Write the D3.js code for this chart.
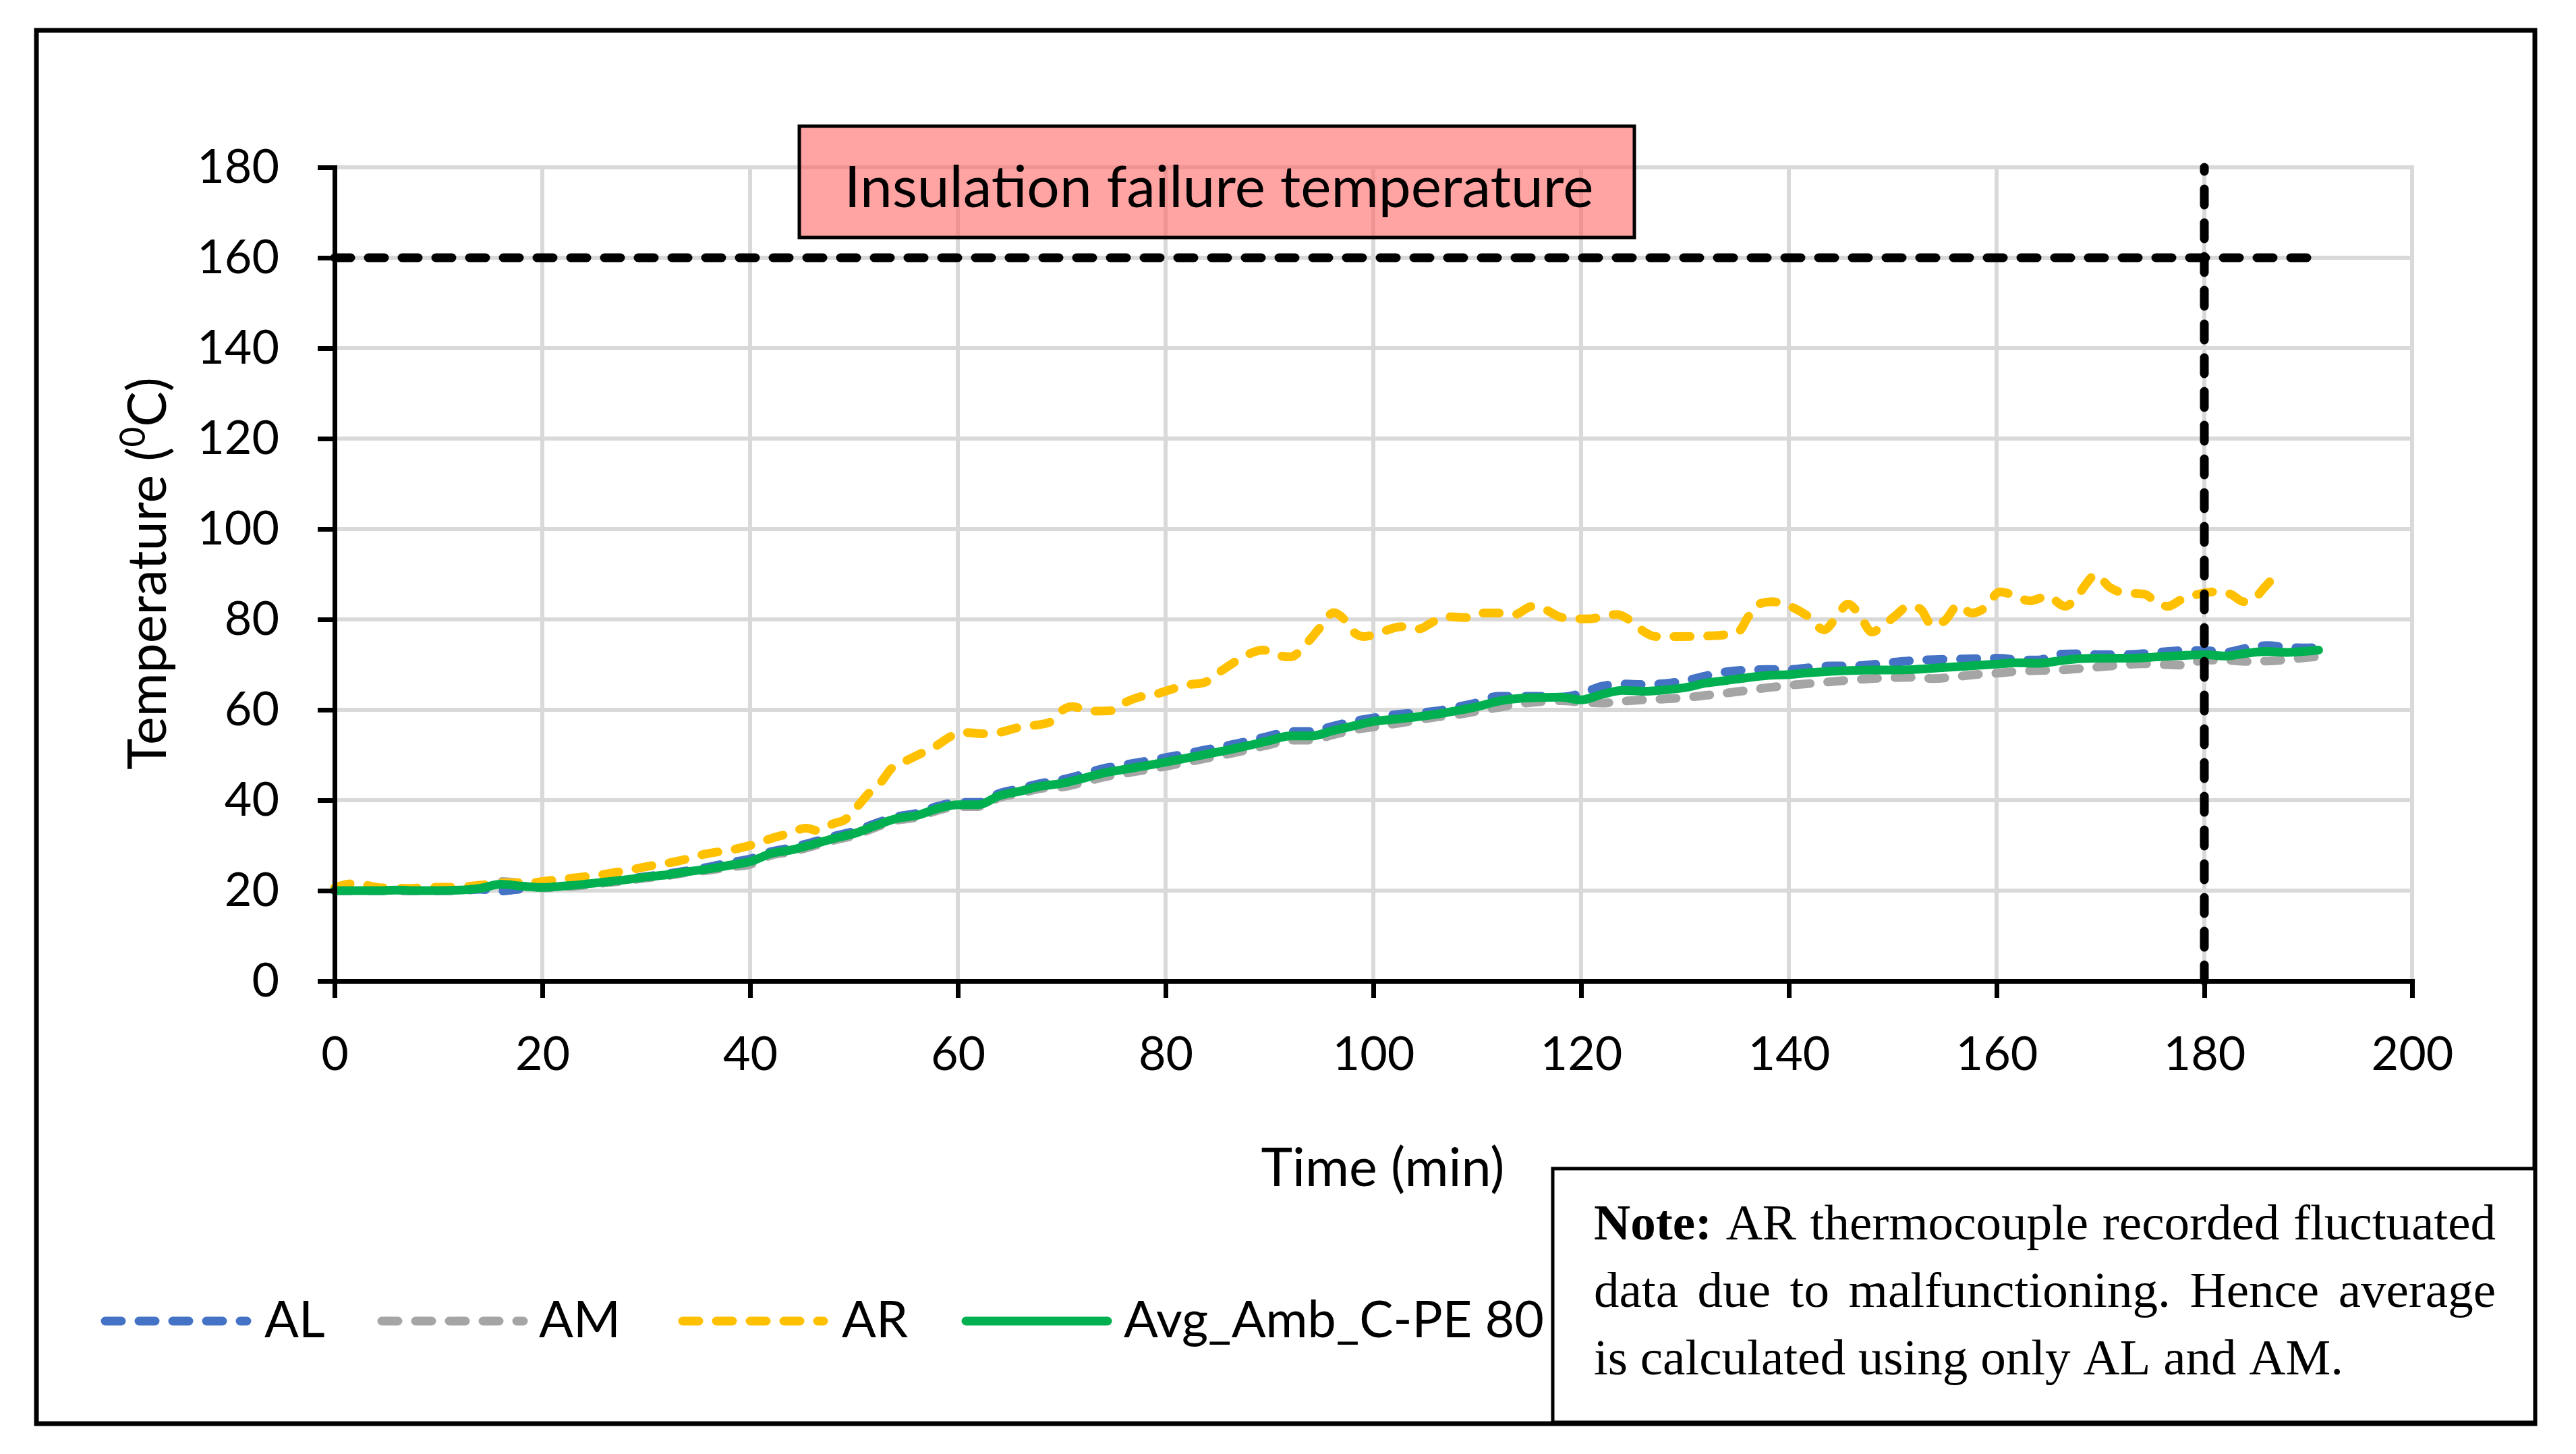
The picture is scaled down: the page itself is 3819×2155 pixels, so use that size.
<!DOCTYPE html>
<html>
<head>
<meta charset="utf-8">
<script src="https://cdnjs.cloudflare.com/ajax/libs/d3/7.8.5/d3.min.js"></script>
<style>
  body { margin: 0; background: #fff; }
  svg { display: block; }
</style>
</head>
<body>
<div id="chart"></div>
<script>
var svgWidth = 3819;
var svgHeight = 2155;

// time (min) for AL, AM and the average
var timeMain = [0, 2, 4, 6, 8, 10, 12, 14, 16, 18,
  20, 22, 24, 26, 28, 30, 32, 34, 36, 38,
  40, 42, 44, 46, 48, 50, 52, 54, 56, 58,
  60, 62, 64, 66, 68, 70, 72, 74, 76, 78,
  80, 82, 84, 86, 88, 90, 92, 94, 96, 98,
  100, 102, 104, 106, 108, 110, 112, 114, 116, 118,
  120, 122, 124, 126, 128, 130, 132, 134, 136, 138,
  140, 142, 144, 146, 148, 150, 152, 154, 156, 158,
  160, 162, 164, 166, 168, 170, 172, 174, 176, 178,
  180, 182, 184, 186, 188, 190, 191];

var AL = [20.0, 20.0, 20.0, 20.0, 20.0, 20.0, 20.0, 20.3, 19.9, 20.4,
  20.9, 21.1, 21.5, 22.0, 22.5, 23.1, 23.7, 24.4, 25.2, 26.2,
  27.0, 28.6, 29.5, 30.7, 32.0, 33.1, 34.8, 36.3, 37.1, 38.6,
  39.5, 39.5, 41.5, 42.6, 43.7, 44.5, 45.7, 47.0, 47.8, 48.6,
  49.4, 50.3, 51.2, 52.1, 53.1, 54.2, 55.2, 55.2, 56.3, 57.4,
  58.2, 58.9, 59.3, 59.7, 60.6, 61.6, 63.0, 63.0, 63.0, 62.8,
  63.6, 65.2, 65.7, 65.6, 65.8, 66.4, 67.5, 68.4, 68.8, 68.9,
  68.9, 69.3, 69.7, 69.7, 70.0, 70.5, 70.9, 71.1, 71.2, 71.3,
  71.4, 71.1, 71.0, 72.3, 72.4, 72.2, 72.2, 72.4, 72.8, 73.1,
  73.1, 72.7, 73.6, 74.2, 73.8, 73.7, 73.8];

var AM = [20.0, 20.0, 20.0, 20.0, 20.0, 20.0, 20.1, 20.6, 22.0, 21.6,
  20.6, 20.8, 21.2, 21.7, 22.2, 22.8, 23.3, 24.0, 24.5, 25.2,
  25.8, 27.8, 28.6, 29.8, 31.1, 32.2, 33.9, 35.5, 36.2, 37.7,
  38.6, 38.6, 40.6, 41.5, 42.6, 42.9, 43.9, 45.1, 45.9, 46.7,
  47.5, 48.4, 49.3, 50.2, 51.2, 52.3, 53.3, 53.3, 54.4, 55.5,
  56.2, 56.9, 57.6, 58.4, 58.9, 59.7, 60.5, 61.3, 61.8, 62.0,
  61.7, 61.5, 61.9, 62.2, 62.4, 62.7, 63.2, 63.7, 64.3, 64.9,
  65.4, 65.8, 66.2, 66.6, 66.9, 67.1, 67.2, 66.9, 67.3, 67.8,
  68.1, 68.5, 68.7, 68.8, 69.1, 69.5, 69.9, 70.2, 70.0, 69.9,
  71.0, 71.0, 70.7, 70.8, 71.1, 71.6, 71.8];

var AVG = [20.0, 20.0, 20.0, 20.1, 20.0, 20.0, 20.1, 20.5, 21.4, 21.0,
  20.7, 21.0, 21.4, 21.9, 22.4, 23.0, 23.5, 24.2, 24.8, 25.6,
  26.4, 28.2, 29.0, 30.2, 31.5, 32.6, 34.3, 35.9, 36.6, 38.1,
  39.0, 39.0, 41.0, 42.0, 43.1, 43.7, 44.8, 46.0, 46.8, 47.6,
  48.4, 49.3, 50.2, 51.1, 52.1, 53.2, 54.2, 54.2, 55.3, 56.4,
  57.4, 57.9, 58.4, 59.0, 59.8, 60.7, 61.9, 62.5, 62.7, 62.8,
  62.2, 63.4, 64.3, 64.1, 64.4, 64.9, 65.9, 66.5, 67.1, 67.6,
  67.8, 68.2, 68.5, 68.7, 68.8, 68.8, 68.9, 69.2, 69.5, 69.8,
  70.1, 70.4, 70.3, 70.8, 71.3, 71.4, 71.4, 71.5, 71.8, 72.0,
  72.2, 71.9, 72.5, 72.9, 72.7, 73.0, 73.2];

// AR fluctuates, so it is read at its own time points
var timeAR = [0, 1.5, 3, 4.5, 7, 9, 12, 14, 16, 19,
  21, 23, 25.6, 28, 30.5, 33, 35.5, 38.8, 40, 42,
  43.5, 45.4, 46.5, 48, 49.2, 50.4, 51.5, 52.5, 53.6, 55,
  56.6, 57.9, 59.4, 60.6, 62.5, 64, 65.7, 67.2, 68.8, 69.8,
  71, 72.8, 74.8, 76, 77.3, 79.1, 80.8, 82.1, 83.7, 85.1,
  86.6, 87.7, 89.4, 90.9, 92, 93.7, 94.8, 96.2, 97.2, 98.1,
  99.1, 101, 102.7, 104.4, 105.7, 107, 109, 110.3, 112.3, 113.6,
  115.3, 116.6, 118.2, 120.6, 123.5, 124.5, 125.5, 127.2, 129.5, 132.8,
  135.1, 136.1, 137.1, 138.4, 140.1, 141.7, 143.4, 144.4, 145.7, 146.7,
  148, 149, 150.3, 151.5, 152.6, 153.8, 155, 156.3, 157.6, 158.9,
  160.3, 161.6, 163.2, 164.9, 166.6, 167.7, 168.7, 169.5, 170.9, 172.2,
  174.2, 175.5, 176.5, 177.8, 179.5, 181.1, 182.5, 183.8, 184.8, 185.8,
  186.8];

var AR = [20.6, 21.5, 21.2, 20.6, 20.5, 20.7, 20.8, 21.2, 21.7, 21.8,
  22.3, 22.8, 23.5, 24.4, 25.5, 26.5, 28.0, 29.3, 30.0, 31.5,
  32.5, 33.8, 33.3, 34.8, 35.8, 38.8, 41.7, 43.7, 47.0, 48.7,
  50.5, 52.0, 54.2, 55.0, 54.7, 55.0, 56.0, 56.5, 57.2, 59.5,
  60.7, 59.7, 59.8, 61.5, 62.7, 63.5, 64.7, 65.5, 66.0, 68.2,
  70.5, 72.0, 73.2, 72.0, 71.7, 75.0, 78.0, 81.5, 80.0, 77.2,
  76.2, 77.4, 78.4, 77.9, 79.4, 80.6, 80.4, 81.4, 81.4, 81.1,
  82.9, 82.1, 80.4, 80.1, 81.1, 80.1, 78.2, 76.2, 76.2, 76.4,
  77.2, 80.6, 83.4, 83.9, 82.9, 80.9, 77.7, 79.9, 83.4, 81.4,
  77.2, 78.5, 80.9, 82.9, 82.4, 78.7, 79.7, 83.1, 81.4, 82.6,
  86.1, 85.4, 84.1, 85.1, 82.9, 84.9, 88.1, 89.9, 87.1, 85.9,
  85.6, 83.6, 82.9, 84.4, 85.6, 86.1, 85.6, 83.9, 84.6, 87.1,
  89.6];

var xTicks = [0, 20, 40, 60, 80, 100, 120, 140, 160, 180, 200];
var yTicks = [0, 20, 40, 60, 80, 100, 120, 140, 160, 180];

var failureTemp = 160;
var failureLineEnd = 190;
var testEnd = 180;

var seriesNames = ["AL", "AM", "AR", "Avg_Amb_C-PE 80"];
var seriesColors = ["#4472C4", "#A5A5A5", "#FFC000", "#00B050"];

var noteLines = [
  ["Note:", "AR", "thermocouple", "recorded", "fluctuated"],
  ["data", "due", "to", "malfunctioning.", "Hence", "average"],
  ["is", "calculated", "using", "only", "AL", "and", "AM."]
];

var plot = { left: 496, right: 3576, top: 248, bottom: 1454 };
var sans = "Lato, 'Open Sans', sans-serif";

var svg = d3.select("#chart")
  .append("svg")
  .attr("width", svgWidth)
  .attr("height", svgHeight);

svg.append("rect")
  .attr("width", svgWidth)
  .attr("height", svgHeight)
  .attr("fill", "#fff");

// outer frame
svg.append("rect")
  .attr("x", 54).attr("y", 45)
  .attr("width", 3704).attr("height", 2065)
  .attr("fill", "none")
  .attr("stroke", "#000")
  .attr("stroke-width", 7);

var xScale = d3.scaleLinear().domain([0, 200]).range([plot.left, plot.right]);
var yScale = d3.scaleLinear().domain([0, 180]).range([plot.bottom, plot.top]);

// gridlines
var grid = svg.append("g");
grid.selectAll(".gx")
  .data(xTicks.filter(d => d > 0))
  .enter().append("line")
  .attr("x1", d => xScale(d)).attr("x2", d => xScale(d))
  .attr("y1", yScale(0)).attr("y2", yScale(180) - 3)
  .attr("stroke", "#D9D9D9").attr("stroke-width", 6);
grid.selectAll(".gy")
  .data(yTicks.filter(d => d > 0))
  .enter().append("line")
  .attr("x1", xScale(0)).attr("x2", xScale(200) + 3)
  .attr("y1", d => yScale(d)).attr("y2", d => yScale(d))
  .attr("stroke", "#D9D9D9").attr("stroke-width", 6);

// label box for the failure temperature
svg.append("rect")
  .attr("x", 1185).attr("y", 187)
  .attr("width", 1238).attr("height", 165)
  .attr("fill", "#FF6060")
  .attr("fill-opacity", 0.58)
  .attr("stroke", "#000")
  .attr("stroke-width", 5);

var boxText = svg.append("text")
  .attr("x", 1807).attr("y", 307)
  .attr("text-anchor", "middle")
  .attr("font-family", sans)
  .attr("font-size", 80)
  .attr("fill", "#000")
  .text("Insulation failure temperature");
fitWidth(boxText, 1111);

// 160 degC dashed line
svg.append("line")
  .attr("x1", xScale(0)).attr("x2", xScale(failureLineEnd))
  .attr("y1", yScale(failureTemp)).attr("y2", yScale(failureTemp))
  .attr("stroke", "#000")
  .attr("stroke-width", 13)
  .attr("stroke-dasharray", "24 26")
  .attr("stroke-linecap", "round");

// data lines
var lineMain = function (values) {
  return d3.line()
    .x((d, i) => xScale(timeMain[i]))
    .y(d => yScale(d))
    .curve(d3.curveMonotoneX)(values);
};
var lineAR = d3.line()
  .x((d, i) => xScale(timeAR[i]))
  .y(d => yScale(d))
  .curve(d3.curveMonotoneX);

var lines = svg.append("g").attr("fill", "none")
  .attr("stroke-linejoin", "round").attr("stroke-linecap", "round");

lines.append("path").attr("d", lineMain(AL))
  .attr("stroke", seriesColors[0]).attr("stroke-width", 13)
  .attr("stroke-dasharray", "24 26");
lines.append("path").attr("d", lineMain(AM))
  .attr("stroke", seriesColors[1]).attr("stroke-width", 13)
  .attr("stroke-dasharray", "24 26");
lines.append("path").attr("d", lineAR(AR))
  .attr("stroke", seriesColors[2]).attr("stroke-width", 13)
  .attr("stroke-dasharray", "24 26");
lines.append("path").attr("d", lineMain(AVG))
  .attr("stroke", seriesColors[3]).attr("stroke-width", 13);

// end of test dashed line
svg.append("line")
  .attr("x1", xScale(testEnd)).attr("x2", xScale(testEnd))
  .attr("y1", yScale(0)).attr("y2", yScale(180))
  .attr("stroke", "#000")
  .attr("stroke-width", 13)
  .attr("stroke-dasharray", "24 26")
  .attr("stroke-linecap", "round");

// axes
var bottomAxis = d3.axisBottom(xScale)
  .tickValues(xTicks).tickSize(25).tickSizeOuter(0).tickPadding(57);
var leftAxis = d3.axisLeft(yScale)
  .tickValues(yTicks).tickSize(25).tickSizeOuter(0).tickPadding(57);

var xAxis = svg.append("g")
  .attr("transform", `translate(0,${plot.bottom})`)
  .call(bottomAxis);
var yAxis = svg.append("g")
  .attr("transform", `translate(${plot.left},0)`)
  .call(leftAxis);

[xAxis, yAxis].forEach(function (ax) {
  ax.select(".domain").attr("stroke", "#000").attr("stroke-width", 7)
    .attr("stroke-linecap", "square");
  ax.selectAll(".tick line").attr("stroke", "#000").attr("stroke-width", 7);
  ax.selectAll(".tick text")
    .attr("font-family", sans)
    .attr("font-size", 70)
    .attr("fill", "#000");
});

// axis titles
var xTitle = svg.append("text")
  .attr("x", 2050).attr("y", 1758)
  .attr("text-anchor", "middle")
  .attr("font-family", sans)
  .attr("font-size", 80)
  .text("Time (min)");
fitWidth(xTitle, 361);

var yTitle = svg.append("text")
  .attr("transform", "translate(246,850) rotate(-90)")
  .attr("text-anchor", "middle")
  .attr("font-family", sans)
  .attr("font-size", 80);
yTitle.append("tspan").text("Temperature (");
yTitle.append("tspan").attr("baseline-shift", "super").attr("font-size", "0.65em").text("0");
yTitle.append("tspan").text("C)");
fitWidth(yTitle, 582);

// legend
var legendLines = [[150, 372], [560, 782], [1006, 1227], [1426, 1648]];
var legendTextX = [392, 799, 1248, 1666];
var legend = svg.append("g");
seriesNames.forEach(function (name, i) {
  legend.append("line")
    .attr("x1", legendLines[i][0] + 6).attr("x2", legendLines[i][1] - 6)
    .attr("y1", 1958).attr("y2", 1958)
    .attr("stroke", seriesColors[i])
    .attr("stroke-width", 13)
    .attr("stroke-linecap", "round")
    .attr("stroke-dasharray", i < 3 ? "24 26" : null);
});
var legendTexts = seriesNames.map(function (name, i) {
  return legend.append("text")
    .attr("x", legendTextX[i]).attr("y", 1982)
    .attr("font-family", sans)
    .attr("font-size", 80)
    .text(name);
});
var legendSize = fitWidth(legendTexts[3], 623);
legendTexts.forEach(t => t.attr("font-size", legendSize));

// note box
svg.append("rect")
  .attr("x", 2302).attr("y", 1732)
  .attr("width", 1456).attr("height", 376)
  .attr("fill", "#fff")
  .attr("stroke", "#000")
  .attr("stroke-width", 5);

var serif = "'Liberation Serif', 'Times New Roman', serif";
var noteLeft = 2363, noteRight = 3700;
var noteBase = [1837, 1937, 2037];

// size the font from the last (left aligned) line
var probe = svg.append("text").attr("font-family", serif).attr("font-size", 72)
  .text(noteLines[2].join(" "));
var noteSize = fitWidth(probe, 1100);
probe.remove();

noteLines.forEach(function (words, li) {
  var widths = words.map(function (w, wi) {
    var t = svg.append("text").attr("font-family", serif).attr("font-size", noteSize)
      .attr("font-weight", (li === 0 && wi === 0) ? "bold" : "normal").text(w);
    var len = t.node().getComputedTextLength();
    t.remove();
    return len;
  });
  var total = d3.sum(widths);
  var space = noteSize * 0.25;
  if (li < 2) space = (noteRight - noteLeft - total) / (words.length - 1);
  var x = noteLeft;
  words.forEach(function (w, wi) {
    svg.append("text")
      .attr("x", x).attr("y", noteBase[li])
      .attr("font-family", serif)
      .attr("font-size", noteSize)
      .attr("font-weight", (li === 0 && wi === 0) ? "bold" : "normal")
      .text(w);
    x += widths[wi] + space;
  });
});

function fitWidth(sel, target) {
  var fs = parseFloat(sel.attr("font-size"));
  var w = sel.node().getComputedTextLength();
  var size = fs * target / w;
  sel.attr("font-size", size);
  return size;
}
</script>
</body>
</html>
